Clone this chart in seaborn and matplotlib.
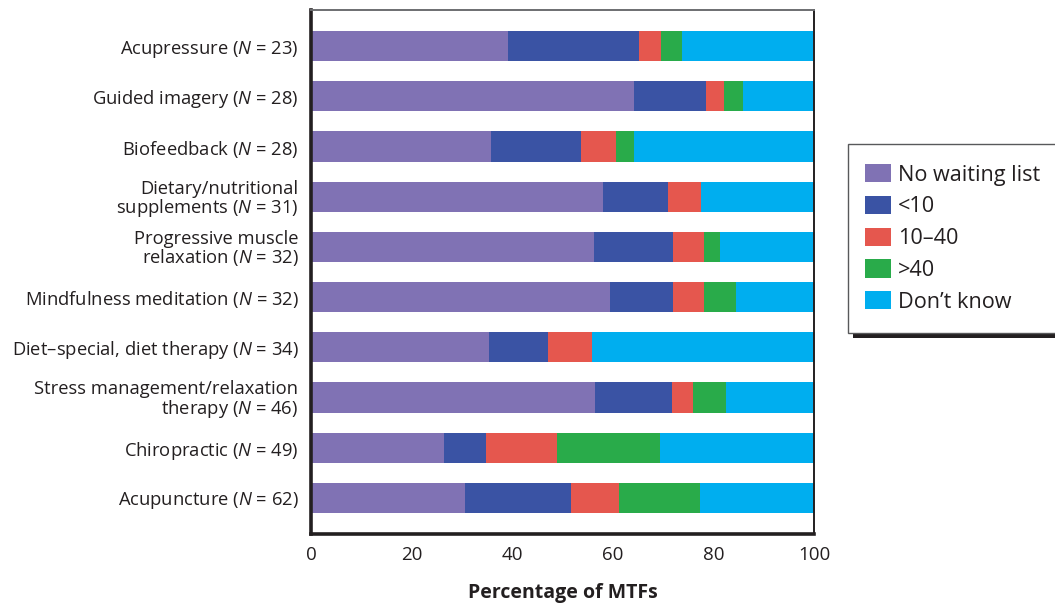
import numpy as np
import matplotlib
matplotlib.use("Agg")
import matplotlib.pyplot as plt
from matplotlib.patches import Patch, Rectangle
import seaborn as sns

# dados (percentual de MTFs por faixa de lista de espera)
metodos = ["Acupressure", "Guided imagery", "Biofeedback", "Dietary/nutritional\nsupplements",
           "Progressive muscle\nrelaxation", "Mindfulness meditation", "Diet–special, diet therapy",
           "Stress management/relaxation\ntherapy", "Chiropractic", "Acupuncture"]
n_mtfs = [23, 28, 28, 31, 32, 32, 34, 46, 49, 62]

no_waiting = [39.1, 64.3, 35.7, 58.1, 56.3, 59.4, 35.3, 56.5, 26.5, 30.6]
menos_10 = [26.1, 14.3, 17.9, 12.9, 15.6, 12.5, 11.8, 15.2, 8.2, 21.0]
de_10_40 = [4.3, 3.6, 7.1, 6.5, 6.3, 6.3, 8.8, 4.3, 14.3, 9.7]
mais_40 = [4.3, 3.6, 3.6, 0.0, 3.1, 6.3, 0.0, 6.5, 20.4, 16.1]
dont_know = [26.1, 14.3, 35.7, 22.6, 18.8, 15.6, 44.1, 17.4, 30.6, 22.6]

series_nomes = ["No waiting list", "<10", "10–40", ">40", "Don’t know"]
cores = ["#8072b4", "#3a53a4", "#e5574e", "#29ab4a", "#00aeef"]
x_ticks = [0, 20, 40, 60, 80, 100]

sns.set_style("white")
plt.rcParams["font.family"] = ["Open Sans", "DejaVu Sans"]
plt.rcParams["mathtext.fontset"] = "custom"
plt.rcParams["mathtext.rm"] = "Open Sans"
plt.rcParams["mathtext.it"] = "Open Sans:italic"
cor_texto = "#231f20"

rotulos = [f"{m} ($\\mathit{{N}}$ = {n})" for m, n in zip(metodos, n_mtfs)]

fig = plt.figure(figsize=(10.55, 6.05), dpi=100)
ax = fig.add_axes([311 / 1055, 1 - 534 / 605, 503 / 1055, 524 / 605])

# barras empilhadas: desenha a soma acumulada de tras pra frente
valores = np.array([no_waiting, menos_10, de_10_40, mais_40, dont_know])
acumulado = np.cumsum(valores, axis=0)
for i in range(len(series_nomes) - 1, -1, -1):
    sns.barplot(x=acumulado[i], y=rotulos, orient="h", color=cores[i], width=0.6,
                saturation=1, ax=ax, linewidth=0)

ax.set_xlim(0, 100)
ax.set_ylim(9.72, -0.72)
ax.set_xticks(x_ticks)
ax.set_xlabel("Percentage of MTFs", fontsize=14, fontweight="bold", color=cor_texto, labelpad=13)
ax.set_ylabel("")

ax.tick_params(axis="x", direction="in", length=10, width=1.3, color="#58595b",
               pad=9, labelsize=13.5, labelcolor=cor_texto)
ax.tick_params(axis="y", length=0, pad=9, labelsize=13.2, labelcolor=cor_texto)
for t in ax.get_yticklabels():
    t.set_linespacing(0.95)

for lado in ["left", "bottom"]:
    ax.spines[lado].set_linewidth(2.6)
    ax.spines[lado].set_color(cor_texto)
ax.spines["top"].set_linewidth(1.4)
ax.spines["top"].set_color("#6d6e71")
ax.spines["right"].set_linewidth(1.4)
ax.spines["right"].set_color(cor_texto)

# caixa da legenda com sombra
W, H = 1055, 605
fig.patches.append(Rectangle((853 / W, 1 - 338 / H), 220 / W, 189 / H, transform=fig.transFigure,
                             facecolor=cor_texto, edgecolor="none", zorder=1))
fig.patches.append(Rectangle((848 / W, 1 - 333 / H), 220 / W, 189 / H, transform=fig.transFigure,
                             facecolor="white", edgecolor="#58595b", linewidth=1.0, zorder=2))

handles = [Patch(facecolor=c, edgecolor="none") for c in cores]
leg = fig.legend(handles, series_nomes, loc="upper left", bbox_to_anchor=(865 / W, 1 - 164 / H),
                 frameon=False, fontsize=15.6, handlelength=1.2, handleheight=0.92,
                 handletextpad=0.33, labelspacing=0.47, borderpad=0, borderaxespad=0)
for t in leg.get_texts():
    t.set_color(cor_texto)
leg.set_zorder(3)

fig.savefig("out.png", dpi=100)
